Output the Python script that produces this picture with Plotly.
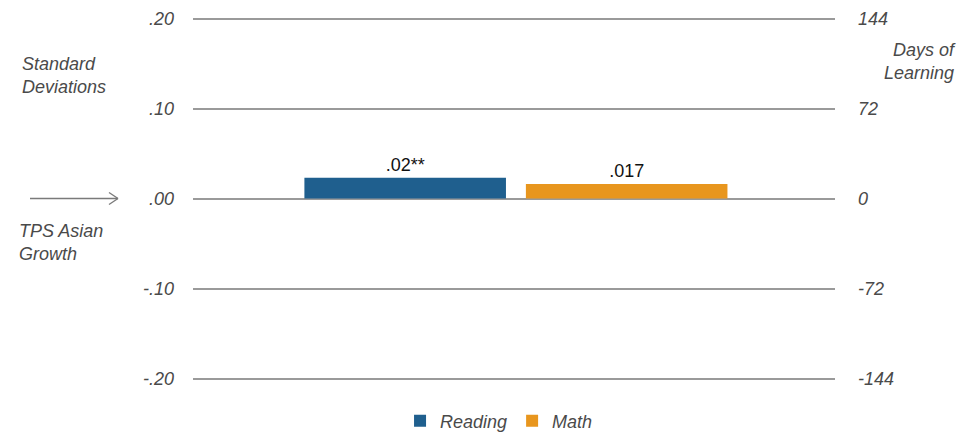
import plotly.graph_objects as go

categories = ["TPS Asian Growth"]
series_names = ["Reading", "Math"]
reading_values = [0.023]
math_values = [0.016]
bar_labels = [".02**", ".017"]
series_colors = ["#1F5F8E", "#E8961E"]

left_tickvals = [0.20, 0.10, 0.00, -0.10, -0.20]
left_ticktext = [".20", ".10", ".00", "-.10", "-.20"]
right_tickvals = [144, 72, 0, -72, -144]
right_ticktext = ["144", "72", "0", "-72", "-144"]

FONT = "Liberation Sans, Arial, sans-serif"
GRAY = "#4a4a4a"

fig = go.Figure()
for name, vals, lab, col in zip(series_names, [reading_values, math_values], bar_labels, series_colors):
    fig.add_trace(go.Bar(
        x=categories, y=vals, name=name, marker=dict(color=col, line=dict(width=0)),
        text=[lab], texttemplate="%{text}", textposition="outside",
        textfont=dict(family=FONT, size=18, color="#111111"), cliponaxis=False,
    ))

# invisible trace to activate the right axis
fig.add_trace(go.Scatter(x=categories, y=[0], yaxis="y2", mode="markers",
                         marker=dict(opacity=0), showlegend=False, hoverinfo="skip"))

fig.update_layout(
    width=969, height=433,
    margin=dict(l=185, r=142, t=6, b=58, autoexpand=False),
    paper_bgcolor="white", plot_bgcolor="white",
    barmode="group", bargap=0.31, bargroupgap=0.09,
    xaxis=dict(range=[-0.503, 0.497], showticklabels=False, showgrid=False, zeroline=False,
               showline=False, ticks="", automargin=False),
    yaxis=dict(range=[-0.205, 0.205], tickvals=left_tickvals, ticktext=left_ticktext,
               showgrid=True, gridcolor="#9a9a9a", gridwidth=1.5, zeroline=False,
               showline=False, ticks="", ticklabelstandoff=18, automargin=False,
               tickfont=dict(family=FONT, size=18, color=GRAY, style="italic")),
    yaxis2=dict(range=[-147.6, 147.6], overlaying="y", side="right", tickvals=right_tickvals,
                ticktext=right_ticktext, showgrid=False, zeroline=False, showline=False,
                ticks="", ticklabelstandoff=22, automargin=False,
                tickfont=dict(family=FONT, size=18, color=GRAY, style="italic")),
    legend=dict(orientation="h", x=0.3225, xanchor="left", y=0.046, yanchor="middle",
                yref="container",
                font=dict(family=FONT, size=18, color=GRAY, style="italic"),
                itemwidth=30, traceorder="normal"),
    showlegend=True,
)

def px2paper(px):
    return (px - 193) / 642.0

annots = [
    dict(text="Standard<br>Deviations", x=px2paper(20), y=0.137, xanchor="left", align="left"),
    dict(text="TPS Asian<br>Growth", x=px2paper(17), y=-0.049, xanchor="left", align="left"),
    dict(text="Days of<br>Learning", x=px2paper(958), y=0.152, xanchor="right", align="right"),
]
for a in annots:
    fig.add_annotation(xref="paper", yref="y", showarrow=False, yanchor="middle",
                       font=dict(family=FONT, size=18, color=GRAY, style="italic"),
                       **{k: v for k, v in a.items()})

# arrow pointing to zero line
arrow_col = "#7a7a7a"
fig.add_shape(type="line", xref="paper", yref="y", x0=px2paper(30), x1=px2paper(118), y0=0, y1=0,
              line=dict(color=arrow_col, width=1.3))
fig.add_shape(type="line", xref="paper", yref="y", x0=px2paper(109), x1=px2paper(118), y0=0.0067, y1=0,
              line=dict(color=arrow_col, width=1.3))
fig.add_shape(type="line", xref="paper", yref="y", x0=px2paper(109), x1=px2paper(118), y0=-0.0067, y1=0,
              line=dict(color=arrow_col, width=1.3))

fig.write_html("out.html")
